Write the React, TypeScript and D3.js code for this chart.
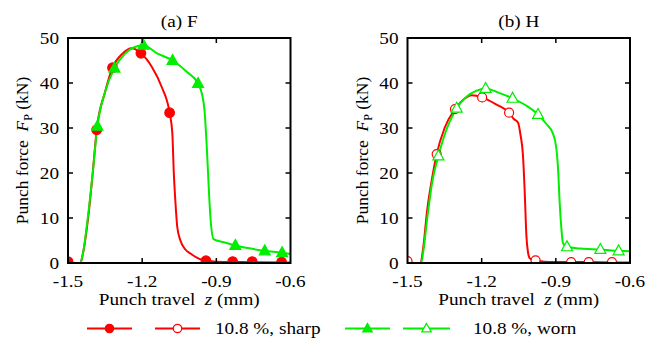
import * as d3 from "d3";

// Punch force vs punch travel — two panels, sharp vs worn tool

type Pt = [number, number];

const X_TICKS = [-1.5, -1.2, -0.9, -0.6];
const Y_TICKS = [0, 10, 20, 30, 40, 50];
const X_TICK_LABELS = ["-1.5", "-1.2", "-0.9", "-0.6"];

// (a) F
const sharpF: Pt[] = [
  [-1.5, 0.3], [-1.47, 0], [-1.45, 0], [-1.44, 2], [-1.418, 10.3], [-1.4, 20],
  [-1.384, 29.6], [-1.35, 38], [-1.32, 43.4], [-1.28, 46.5], [-1.242, 47.7],
  [-1.205, 46.6], [-1.16, 43.5], [-1.12, 39], [-1.089, 33.4], [-1.078, 28.9],
  [-1.072, 20], [-1.066, 14], [-1.058, 8], [-1.046, 5.1], [-1.025, 3],
  [-1.005, 2.1], [-0.975, 1.1], [-0.951, 0.6], [-0.9, 0.3], [-0.8, 0.2], [-0.6, 0.1],
];
const sharpFMarks: Pt[] = [
  [-1.5, 0.3], [-1.384, 29.6], [-1.32, 43.4], [-1.205, 46.6], [-1.089, 33.4],
  [-0.942, 0.5], [-0.834, 0.3], [-0.755, 0.3], [-0.636, 0.2],
];
const wornF: Pt[] = [
  [-1.5, 0], [-1.45, 0], [-1.44, 2], [-1.42, 10], [-1.4, 20], [-1.381, 30.4],
  [-1.35, 38], [-1.312, 43.3], [-1.27, 46.5], [-1.23, 48], [-1.195, 48.4],
  [-1.14, 46.6], [-1.077, 45.0], [-1.02, 42.5], [-0.974, 39.9], [-0.958, 37.5],
  [-0.948, 34], [-0.938, 25.1], [-0.93, 16], [-0.924, 10.3], [-0.911, 5.3],
  [-0.87, 4.6], [-0.823, 3.9], [-0.76, 3.2], [-0.704, 2.7], [-0.634, 2.3], [-0.6, 2.0],
];
const wornFMarks: Pt[] = [
  [-1.381, 30.4], [-1.312, 43.3], [-1.195, 48.4], [-1.077, 45.0], [-0.974, 39.9],
  [-0.823, 3.9], [-0.704, 2.7], [-0.634, 2.3],
];

// (b) H
const sharpH: Pt[] = [
  [-1.5, 0.3], [-1.47, 0], [-1.449, 0], [-1.435, 4], [-1.422, 11], [-1.4, 19],
  [-1.382, 24.2], [-1.35, 30], [-1.308, 34.2], [-1.27, 36.5], [-1.24, 37.3],
  [-1.198, 36.8], [-1.14, 35.2], [-1.089, 33.4], [-1.07, 32], [-1.053, 31.2],
  [-1.043, 28.5], [-1.033, 24], [-1.026, 16], [-1.019, 6], [-1.012, 2.2],
  [-1.006, 1.1], [-0.99, 0.6], [-0.95, 0.3], [-0.9, 0.2], [-0.8, 0.2], [-0.6, 0.1],
];
const sharpHMarks: Pt[] = [
  [-1.5, 0.4], [-1.382, 24.2], [-1.308, 34.2], [-1.198, 36.8], [-1.089, 33.4],
  [-0.982, 0.6], [-0.838, 0.2], [-0.767, 0.2], [-0.673, 0.2],
];
const wornH: Pt[] = [
  [-1.5, 0], [-1.445, 0], [-1.435, 3], [-1.42, 10], [-1.4, 18], [-1.375, 23.8],
  [-1.34, 30], [-1.301, 34.4], [-1.26, 37], [-1.22, 38.3], [-1.184, 38.8],
  [-1.13, 37.8], [-1.075, 36.6], [-1.02, 35], [-0.972, 33.0], [-0.94, 31],
  [-0.912, 28.8], [-0.898, 25.5], [-0.89, 20], [-0.885, 14], [-0.878, 8],
  [-0.871, 4.4], [-0.855, 3.6], [-0.8, 3.2], [-0.72, 3.0], [-0.646, 2.7], [-0.6, 2.6],
];
const wornHMarks: Pt[] = [
  [-1.375, 23.8], [-1.301, 34.4], [-1.184, 38.8], [-1.075, 36.6], [-0.972, 33.0],
  [-0.855, 3.6], [-0.72, 3.0], [-0.646, 2.7],
];

const RED = "#ff0000";
const GREEN = "#00ee00";
const FONT = '"Liberation Serif", "Times New Roman", "DejaVu Serif", serif';
const SX = 1.2; // text in the source figure is a bit stretched horizontally

function SText({ x, y, anchor = "start", size = 16, children }: any) {
  return (
    <text
      transform={`translate(${x},${y}) scale(${SX},1)`}
      textAnchor={anchor}
      fill="#000"
      style={{ whiteSpace: "pre", fontFamily: FONT, fontSize: size }}
    >
      {children}
    </text>
  );
}

function Triangle({ x, y, s, fill, stroke }: any) {
  const h = s * 0.9;
  return (
    <polygon
      points={`${x},${y - h * 0.6} ${x - s / 2},${y + h * 0.4} ${x + s / 2},${y + h * 0.4}`}
      fill={fill}
      stroke={stroke}
      strokeWidth={1.2}
    />
  );
}

function Panel({ id, left, title, sharp, sharpMarks, worn, wornMarks, open }: any) {
  const top = 38;
  const bottom = 263;
  const width = 222.5;
  const x = d3.scaleLinear().domain([-1.5, -0.6]).range([left, left + width]);
  const y = d3.scaleLinear().domain([0, 50]).range([bottom, top]);
  const line = d3
    .line<Pt>()
    .x((d) => x(d[0]))
    .y((d) => y(d[1]))
    .curve(d3.curveMonotoneX);
  const tl = 5;

  return (
    <g>
      <defs>
        <clipPath id={`clip-${id}`}>
          <rect x={left} y={top} width={width} height={bottom - top} />
        </clipPath>
      </defs>
      <SText x={(left + left + width) / 2} y={27} anchor="middle">
        {title}
      </SText>

      <g clipPath={`url(#clip-${id})`}>
        <path d={line(sharp) ?? ""} fill="none" stroke={RED} strokeWidth={2} />
        <path d={line(worn) ?? ""} fill="none" stroke={GREEN} strokeWidth={2} />
        {sharpMarks.map((d: Pt, i: number) => (
          <circle
            key={`s${i}`}
            cx={x(d[0])}
            cy={y(d[1])}
            r={open ? 4.5 : 4.8}
            fill={open ? "#fff" : RED}
            stroke={RED}
            strokeWidth={1.2}
          />
        ))}
        {wornMarks.map((d: Pt, i: number) => (
          <Triangle
            key={`w${i}`}
            x={x(d[0])}
            y={y(d[1])}
            s={11}
            fill={open ? "#fff" : GREEN}
            stroke={GREEN}
          />
        ))}
      </g>

      {/* ticks, inward on all four sides */}
      {Y_TICKS.slice(1, -1).map((t) => (
        <g key={`yt${t}`} stroke="#000" strokeWidth={1.5}>
          <line x1={left} x2={left + tl} y1={y(t)} y2={y(t)} />
          <line x1={left + width} x2={left + width - tl} y1={y(t)} y2={y(t)} />
        </g>
      ))}
      {X_TICKS.slice(1, -1).map((t) => (
        <g key={`xt${t}`} stroke="#000" strokeWidth={1.5}>
          <line x1={x(t)} x2={x(t)} y1={bottom} y2={bottom - tl} />
          <line x1={x(t)} x2={x(t)} y1={top} y2={top + tl} />
        </g>
      ))}
      <rect
        x={left}
        y={top}
        width={width}
        height={bottom - top}
        fill="none"
        stroke="#000"
        strokeWidth={2}
      />

      {Y_TICKS.map((t) => (
        <SText key={`yl${t}`} x={left - 9} y={y(t) + 5.5} anchor="end">
          {t}
        </SText>
      ))}
      {X_TICKS.map((t, i) => (
        <SText key={`xl${t}`} x={x(t)} y={287} anchor="middle">
          {X_TICK_LABELS[i]}
        </SText>
      ))}

      <SText x={left + width / 2} y={305} anchor="middle">
        {"Punch travel  "}
        <tspan fontStyle="italic">z</tspan>
        {" (mm)"}
      </SText>

      <text
        transform={`translate(${left - 40},${(top + bottom) / 2}) rotate(-90)`}
        textAnchor="middle"
        style={{ whiteSpace: "pre", fontFamily: FONT, fontSize: 17.5 }}
      >
        {"Punch force  "}
        <tspan fontStyle="italic">F</tspan>
        <tspan fontSize={12} dy={4}>P</tspan>
        <tspan dy={-4}>{" (kN)"}</tspan>
      </text>
    </g>
  );
}

function Legend() {
  const ly = 328.5;
  const items = [
    { x1: 87, x2: 132, color: RED, kind: "circle", open: false },
    { x1: 155, x2: 200, color: RED, kind: "circle", open: true },
    { x1: 345, x2: 390, color: GREEN, kind: "tri", open: false },
    { x1: 403, x2: 450, color: GREEN, kind: "tri", open: true },
  ];
  return (
    <g>
      {items.map((it, i) => {
        const mx = (it.x1 + it.x2) / 2;
        return (
          <g key={i}>
            <line x1={it.x1} x2={it.x2} y1={ly} y2={ly} stroke={it.color} strokeWidth={2} />
            {it.kind === "circle" ? (
              <circle
                cx={mx}
                cy={ly}
                r={4.2}
                fill={it.open ? "#fff" : it.color}
                stroke={it.color}
                strokeWidth={1.2}
              />
            ) : (
              <Triangle x={mx} y={ly} s={9.5} fill={it.open ? "#fff" : it.color} stroke={it.color} />
            )}
          </g>
        );
      })}
      <SText x={215} y={334}>
        10.8 %, sharp
      </SText>
      <SText x={473} y={334}>
        10.8 %, worn
      </SText>
    </g>
  );
}

export default function App() {
  return (
    <svg
      width={646}
      height={340}
      style={{ position: "absolute", left: 0, top: 0, background: "#fff" }}
    >
      <rect width={646} height={340} fill="#fff" />
      <Panel
        id="a"
        left={68}
        title="(a) F"
        sharp={sharpF}
        sharpMarks={sharpFMarks}
        worn={wornF}
        wornMarks={wornFMarks}
        open={false}
      />
      <Panel
        id="b"
        left={407.5}
        title="(b) H"
        sharp={sharpH}
        sharpMarks={sharpHMarks}
        worn={wornH}
        wornMarks={wornHMarks}
        open={true}
      />
      <Legend />
    </svg>
  );
}
